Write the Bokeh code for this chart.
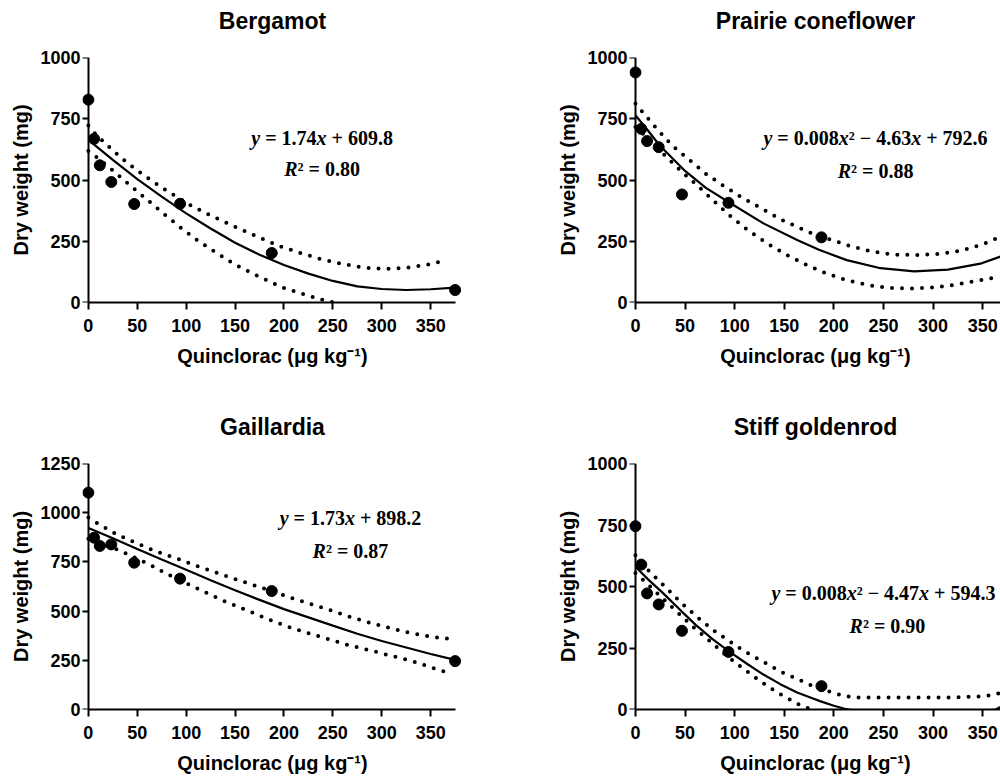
from bokeh.plotting import figure
from bokeh.layouts import column, row
from bokeh.models import Range1d, FixedTicker, ColumnDataSource, LinearAxis, Title
from bokeh.core.properties import value
from bokeh.embed import file_html
from bokeh.resources import INLINE

# ---------------- data ----------------
doses = [0, 5.86, 11.72, 23.44, 46.88, 93.75, 187.5, 375]

bergamot_dw = [828, 668, 560, 492, 402, 403, 202, 51]
prairie_dw = [939, 709, 659, 634, 441, 407, 266, 182]
gaillardia_dw = [1102, 873, 831, 839, 746, 665, 602, 246]
goldenrod_dw = [745, 589, 472, 427, 320, 234, 95, 45]

# fitted curves
bergamot_fit_x = [0, 25, 50, 75, 100, 125, 150, 175, 200, 225, 250, 275, 300, 325, 350, 375]
bergamot_fit_y = [664, 582, 504, 432, 364, 302, 244, 195, 153, 118, 88, 66, 55, 51, 54, 61]
bergamot_up_x = [0, 7, 23, 40, 58, 76, 104, 124, 145, 165, 185, 194, 217, 237, 257, 280, 302, 324, 346, 367]
bergamot_up_y = [722, 689, 628, 569, 516, 467, 398, 357, 318, 282, 248, 232, 202, 178, 160, 143, 137, 141, 154, 173]
bergamot_lo_x = [0, 9, 26, 43, 60, 77, 94, 112, 130, 149, 169, 189, 199, 220, 240, 251, 260]
bergamot_lo_y = [618, 591, 536, 477, 420, 362, 307, 252, 205, 157, 116, 79, 61, 34, 10, 0, -8]

prairie_fit_x = [0, 13, 24, 50, 71, 95, 129, 163, 185, 213, 247, 281, 315, 349, 374]
prairie_fit_y = [764, 700, 643, 537, 468, 407, 323, 255, 215, 173, 140, 127, 134, 160, 196]
prairie_up_x = [0, 7, 22, 37, 54, 71, 90, 108, 128, 147, 168, 178, 198, 218, 240, 262, 284, 306, 328, 349, 369]
prairie_up_y = [812, 778, 707, 641, 583, 525, 473, 427, 382, 338, 300, 282, 255, 228, 207, 195, 194, 198, 211, 236, 270]
prairie_lo_x = [0, 10, 20, 32, 48, 65, 81, 97, 114, 133, 152, 172, 181, 192, 212, 234, 256, 278, 300, 322, 344, 365]
prairie_lo_y = [716, 680, 638, 591, 529, 468, 407, 348, 293, 241, 195, 154, 138, 119, 92, 71, 59, 57, 61, 72, 89, 103]

gaillardia_fit_x = [0, 25, 50, 75, 100, 125, 150, 175, 200, 225, 250, 275, 300, 325, 350, 375]
gaillardia_fit_y = [922, 870, 815, 762, 710, 657, 606, 557, 510, 468, 426, 385, 348, 315, 282, 252]
gaillardia_up_x = [0, 10, 29, 50, 70, 91, 111, 132, 153, 174, 205, 226, 247, 268, 289, 310, 331, 353, 375]
gaillardia_up_y = [975, 944, 890, 843, 802, 766, 729, 693, 658, 624, 571, 538, 505, 470, 439, 412, 387, 368, 356]
gaillardia_lo_x = [0, 10, 31, 61, 81, 101, 121, 141, 162, 182, 202, 223, 244, 266, 287, 308, 329, 350, 371]
gaillardia_lo_y = [868, 847, 810, 741, 687, 639, 592, 546, 504, 463, 424, 390, 360, 327, 302, 275, 249, 215, 182]

goldenrod_fit_x = [0, 13, 27, 47, 61, 78, 95, 112, 129, 146, 163, 179, 186, 200, 210, 230, 260, 290, 320, 345, 363, 374]
goldenrod_fit_y = [580, 528, 476, 397, 343, 285, 234, 187, 142, 103, 69, 45, 34, 15, 4, -12, -25, -30, -25, -10, 0, 22]
goldenrod_up_x = [0, 15, 31, 46, 63, 80, 108, 128, 147, 167, 177, 196, 208, 220, 247, 281, 315, 349, 361, 371]
goldenrod_up_y = [627, 557, 495, 434, 373, 318, 241, 196, 153, 117, 99, 72, 58, 49, 49, 49, 49, 53, 59, 73]
goldenrod_lo_x = [0, 8, 24, 40, 56, 73, 90, 107, 125, 143, 163, 173, 180]
goldenrod_lo_y = [555, 526, 465, 404, 343, 285, 225, 171, 117, 69, 24, 7, -5]

titles = ["Bergamot", "Prairie coneflower", "Gaillardia", "Stiff goldenrod"]
x_ticks = [0, 50, 100, 150, 200, 250, 300, 350]
y_ticks_1000 = [0, 250, 500, 750, 1000]
y_ticks_1250 = [0, 250, 500, 750, 1000, 1250]

NB = "\u00a0"
eq_bergamot = [[("y", "bold italic"), (NB + "=" + NB + "1.74", "bold"), ("x", "bold italic"), (NB + "+" + NB + "609.8", "bold")],
               [("R", "bold italic"), ("\u00b2" + NB + "=" + NB + "0.80", "bold")]]
eq_prairie = [[("y", "bold italic"), (NB + "=" + NB + "0.008", "bold"), ("x", "bold italic"),
               ("\u00b2" + NB + "\u2212" + NB + "4.63", "bold"),
               ("x", "bold italic"), (NB + "+" + NB + "792.6", "bold")],
              [("R", "bold italic"), ("\u00b2" + NB + "=" + NB + "0.88", "bold")]]
eq_gaillardia = [[("y", "bold italic"), (NB + "=" + NB + "1.73", "bold"), ("x", "bold italic"), (NB + "+" + NB + "898.2", "bold")],
                 [("R", "bold italic"), ("\u00b2" + NB + "=" + NB + "0.87", "bold")]]
eq_goldenrod = [[("y", "bold italic"), (NB + "=" + NB + "0.008", "bold"), ("x", "bold italic"),
                 ("\u00b2" + NB + "\u2212" + NB + "4.47", "bold"),
                 ("x", "bold italic"), (NB + "+" + NB + "594.3", "bold")],
                [("R", "bold italic"), ("\u00b2" + NB + "=" + NB + "0.90", "bold")]]

# ---------------- styling helpers ----------------
SANS = "Liberation Sans"
SERIF = "Liberation Serif"
EQ_SIZE = 20

ADV_B = {".": 250, NB: 250, " ": 250, "=": 570, "+": 570, "\u2212": 570, "\u00b2": 300}
ADV_BI = {"y": 444, "x": 500, "R": 667}


def seg_width(txt, style):
    table = ADV_BI if style == "bold italic" else ADV_B
    return sum(table.get(ch, 500) for ch in txt) * EQ_SIZE / 1000.0


def eq_source(lines, anchors):
    d = dict(x=[], y=[], text=[], xo=[], style=[])
    for segs, (cx, cy) in zip(lines, anchors):
        widths = [seg_width(t, s) for t, s in segs]
        off = -sum(widths) / 2.0
        for (t, s), w in zip(segs, widths):
            d["x"].append(cx)
            d["y"].append(cy)
            d["text"].append(t)
            d["xo"].append(off)
            d["style"].append(s)
            off += w
    return ColumnDataSource(d)


def style_axis(ax):
    ax.axis_line_width = 2
    ax.axis_line_color = "black"
    ax.major_tick_line_width = 2
    ax.major_tick_line_color = "black"
    ax.major_tick_out = 7
    ax.major_tick_in = 0
    ax.minor_tick_line_color = None
    ax.major_label_text_font = SANS
    ax.major_label_text_font_style = "bold"
    ax.major_label_text_font_size = "18px"
    ax.major_label_text_color = "black"
    ax.axis_label_text_font = SANS
    ax.axis_label_text_font_style = "bold"
    ax.axis_label_text_font_size = "20px"
    ax.axis_label_text_color = "black"


def panel(title, ymax, yticks, dw, fit, up, lo, eq, anchors, left_col, top_row):
    fw = 380 if left_col else 372
    x_end = (fw / 0.978 - 6) if left_col else 369
    fh = 245 if top_row else 246
    p = figure(frame_width=fw, frame_height=fh,
               x_range=Range1d(-6, x_end), y_range=Range1d(0, ymax),
               output_backend="svg", toolbar_location=None,
               min_border_left=82 if left_col else 74, min_border_right=92 if left_col else 0,
               min_border_top=57 if top_row else 86,
               min_border_bottom=75 if top_row else 64,
               background_fill_color="white", border_fill_color="white")
    p.outline_line_color = None
    p.xgrid.visible = False
    p.ygrid.visible = False

    p.title.text = title
    p.title.align = "center"
    p.title.text_font = SANS
    p.title.text_font_style = "bold"
    p.title.text_font_size = "23px"
    p.title.text_color = "black"
    p.title.standoff = 0
    # blank spacer between the frame and the title
    p.add_layout(Title(text=NB, text_font_size="8px", standoff=13), "above")

    xa = p.xaxis[0]
    style_axis(xa)
    xa.ticker = FixedTicker(ticks=x_ticks)
    xa.bounds = (0, 375)
    xa.axis_label = "Quinclorac (\u03bcg kg\u207b\u00b9)"
    xa.major_label_standoff = 9
    xa.axis_label_standoff = 10

    # labels-only y axis at the frame edge
    ya = p.yaxis[0]
    style_axis(ya)
    ya.ticker = FixedTicker(ticks=yticks)
    ya.axis_line_color = None
    ya.major_tick_line_color = None
    ya.major_tick_out = 0
    ya.major_label_standoff = 2
    ya.axis_label = "Dry weight (mg)"
    ya.axis_label_standoff = 5

    # axis line + ticks drawn at x = 0
    yline = LinearAxis(ticker=FixedTicker(ticks=yticks), fixed_location=0, bounds=(0, ymax))
    style_axis(yline)
    yline.major_label_text_font_size = "0px"
    yline.major_label_text_color = None
    yline.major_label_standoff = 0
    p.add_layout(yline, "left")

    p.line(fit[0], fit[1], line_width=2.2, line_color="black")
    for cx, cy in (up, lo):
        p.line(cx, cy, line_width=4, line_color="black", line_dash="0 10", line_cap="round")
    p.scatter(doses, dw, size=11, fill_color="black", line_color="black")

    p.text(x="x", y="y", text="text", x_offset="xo", source=eq_source(eq, anchors),
           text_font=value(SERIF), text_font_style="style", text_font_size=f"{EQ_SIZE}px",
           text_align="left", text_baseline="alphabetic", text_color="black")
    return p


p1 = panel(titles[0], 1000, y_ticks_1000, bergamot_dw,
           (bergamot_fit_x, bergamot_fit_y), (bergamot_up_x, bergamot_up_y), (bergamot_lo_x, bergamot_lo_y),
           eq_bergamot, [(239, 670), (239, 543)], True, True)
p2 = panel(titles[1], 1000, y_ticks_1000, prairie_dw,
           (prairie_fit_x, prairie_fit_y), (prairie_up_x, prairie_up_y), (prairie_lo_x, prairie_lo_y),
           eq_prairie, [(242, 670), (242, 535)], False, True)
p3 = panel(titles[2], 1250, y_ticks_1250, gaillardia_dw,
           (gaillardia_fit_x, gaillardia_fit_y), (gaillardia_up_x, gaillardia_up_y), (gaillardia_lo_x, gaillardia_lo_y),
           eq_gaillardia, [(268, 971), (268, 803)], True, False)
p4 = panel(titles[3], 1000, y_ticks_1000, goldenrod_dw,
           (goldenrod_fit_x, goldenrod_fit_y), (goldenrod_up_x, goldenrod_up_y), (goldenrod_lo_x, goldenrod_lo_y),
           eq_goldenrod, [(250, 472), (254, 338)], False, False)

layout = column(row(p1, p2), row(p3, p4))
open("out.html", "w").write(file_html(layout, INLINE))
